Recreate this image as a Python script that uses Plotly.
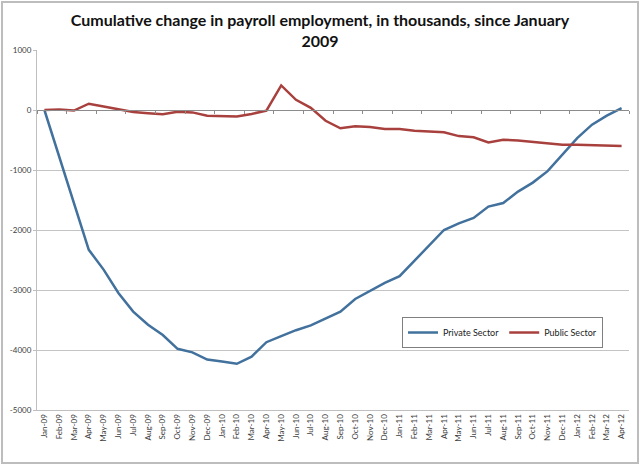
import plotly.graph_objects as go

months = ['Jan-09', 'Feb-09', 'Mar-09', 'Apr-09', 'May-09', 'Jun-09', 'Jul-09', 'Aug-09',
          'Sep-09', 'Oct-09', 'Nov-09', 'Dec-09', 'Jan-10', 'Feb-10', 'Mar-10', 'Apr-10',
          'May-10', 'Jun-10', 'Jul-10', 'Aug-10', 'Sep-10', 'Oct-10', 'Nov-10', 'Dec-10',
          'Jan-11', 'Feb-11', 'Mar-11', 'Apr-11', 'May-11', 'Jun-11', 'Jul-11', 'Aug-11',
          'Sep-11', 'Oct-11', 'Nov-11', 'Dec-11', 'Jan-12', 'Feb-12', 'Mar-12', 'Apr-12']

# cumulative change, thousands
private_sector = [0, -780, -1520, -2330, -2660, -3050, -3360, -3580,
                  -3750, -3980, -4040, -4160, -4190, -4230, -4110, -3870,
                  -3770, -3670, -3590, -3480, -3360, -3150, -3020, -2880,
                  -2770, -2510, -2250, -2000, -1890, -1800, -1610, -1550,
                  -1360, -1210, -1020, -750, -470, -245, -95, 30]
public_sector = [0, 10, -10, 105, 60, 15, -35, -55,
                 -70, -30, -40, -95, -100, -110, -65, -10,
                 410, 170, 35, -180, -305, -270, -285, -315,
                 -315, -345, -360, -370, -435, -455, -540, -495,
                 -510, -535, -565, -580, -580, -585, -590, -600]

y_ticks = [-5000, -4000, -3000, -2000, -1000, 0, 1000]
y_labels = ['-5000', '-4000', '-3000', '-2000', '-1000', '0', '1000']

fig = go.Figure()
fig.add_trace(go.Scatter(x=months, y=private_sector, name='Private Sector', mode='lines',
                         line=dict(color='#41719c', width=2.5)))
fig.add_trace(go.Scatter(x=months, y=public_sector, name='Public Sector', mode='lines',
                         line=dict(color='#a8403d', width=2.5)))
# axis drawn at zero with tick marks only (like Excel's crossing axis)
fig.add_trace(go.Scatter(x=months, y=[None] * len(months), xaxis='x2', showlegend=False,
                         hoverinfo='skip'))

fig.update_layout(
    width=640, height=465,
    paper_bgcolor='white', plot_bgcolor='white',
    margin=dict(l=37, r=11, t=50, b=55),
    font=dict(family='Lato, Open Sans, sans-serif', color='#404040'),
    title=dict(text='Cumulative change in payroll employment, in thousands, since January<br>2009',
               x=0.5, xanchor='center', y=1 - 26 / 465, yanchor='middle',
               font=dict(size=16, color='#111111', family='Lato', weight='bold')),
    xaxis=dict(type='category', range=[-0.5, len(months) - 0.5], tickangle=-90,
               tickfont=dict(size=8, color='#404040'),
               showgrid=False, showline=True, linecolor='#bfbfbf', ticks='', zeroline=False),
    xaxis2=dict(type='category', overlaying='x', matches='x', anchor='free', position=5 / 6,
                showticklabels=False, showgrid=False, showline=True, linecolor='#8c8c8c',
                ticks='outside', ticklen=3, tickcolor='#8c8c8c', tickson='boundaries'),
    yaxis=dict(range=[-5000, 1000], tickvals=y_ticks, ticktext=y_labels,
               tickfont=dict(size=8, color='#404040'), showgrid=True, gridcolor='#c4c4c4',
               gridwidth=1, showline=True, linecolor='#bfbfbf', ticks='outside', ticklen=3,
               tickcolor='#bfbfbf', zeroline=False),
    legend=dict(orientation='h', x=0.6166, y=0.2583, xanchor='left', yanchor='top',
                bgcolor='white', bordercolor='#7f7f7f', borderwidth=1,
                font=dict(size=9, color='#222222'), itemwidth=30),
    # outer chart frame
    shapes=[dict(type='rect', xref='paper', yref='paper',
                 x0=-35 / 592, x1=1 + 9 / 592, y0=-53 / 360, y1=1 + 48 / 360,
                 line=dict(color='#bdbdbd', width=2))],
)

fig.write_html('out.html', config={'displayModeBar': False},
               post_script="document.body.style.margin='0';")
